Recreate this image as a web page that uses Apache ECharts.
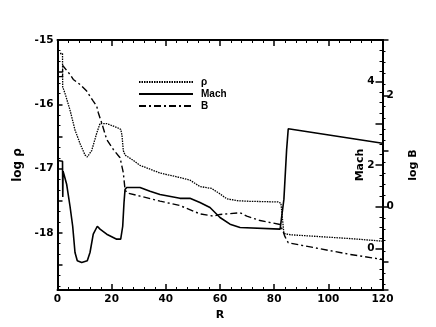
<!DOCTYPE html>
<html><head><meta charset="utf-8">
<script src="https://cdn.jsdelivr.net/npm/echarts@6/dist/echarts.min.js"></script>
<style>html,body{margin:0;padding:0;background:#fff}#c{width:436px;height:327px}</style>
</head><body><div id="c"></div>
<script>
// log rho (dotted)
const rhoR = [0, 1.85, 1.92, 2.77, 4.62, 6.46, 8.31, 10.16, 11.0, 12.63, 14.48, 15.69, 18.17, 21.86, 23.34, 23.8, 24.3, 24.93, 27.88, 30.47, 37.85, 45.2, 48.9, 52.6, 56.9, 59.5, 62.5, 66.2, 71.1, 81.4, 82.5, 83.6, 85.9, 108.1, 120];
const rhoV = [-15.21, -15.21, -15.73, -15.83, -16.09, -16.40, -16.61, -16.79, -16.82, -16.72, -16.45, -16.30, -16.30, -16.36, -16.39, -16.48, -16.72, -16.79, -16.87, -16.95, -17.07, -17.14, -17.18, -17.28, -17.31, -17.38, -17.47, -17.50, -17.51, -17.52, -17.54, -18.01, -18.03, -18.09, -18.13];
// Mach (solid)
const machR = [0, 1.85, 1.95, 2.05, 2.4, 3.4, 4.62, 5.61, 6.46, 7.31, 8.94, 11.0, 12.0, 13.2, 14.7, 15.7, 18.17, 21.86, 23.34, 24.08, 24.56, 24.93, 25.55, 30.47, 34.16, 37.85, 45.2, 48.9, 52.6, 56.3, 60.0, 63.7, 67.4, 82.2, 82.9, 83.6, 84.6, 85.2, 120];
const machV = [2.11, 2.09, 1.23, 1.85, 1.77, 1.53, 1.01, 0.53, -0.10, -0.30, -0.34, -0.30, -0.10, 0.34, 0.53, 0.46, 0.34, 0.22, 0.22, 0.53, 1.10, 1.41, 1.46, 1.46, 1.37, 1.29, 1.20, 1.20, 1.10, 0.98, 0.74, 0.58, 0.50, 0.46, 0.50, 1.18, 2.37, 2.87, 2.52];
// log B (dash-dot)
const bR = [0, 1.85, 1.92, 4.62, 5.83, 8.31, 10.78, 13.2, 14.48, 15.07, 16.3, 18.17, 20.6, 23.1, 23.7, 24.3, 24.93, 25.55, 30.47, 37.85, 45.2, 52.6, 57.5, 60.0, 67.4, 69.9, 74.8, 82.2, 83.3, 84.0, 85.2, 108.1, 120];
const bV = [2.34, 2.34, 2.54, 2.38, 2.29, 2.20, 2.08, 1.90, 1.81, 1.69, 1.51, 1.21, 1.03, 0.88, 0.85, 0.61, 0.31, 0.25, 0.19, 0.10, 0.02, -0.13, -0.17, -0.14, -0.11, -0.17, -0.25, -0.32, -0.45, -0.54, -0.65, -0.86, -0.95];

const seriesNames = ['ρ', 'Mach', 'B'];
const xTitle = 'R';
const yTitles = ['log ρ', 'Mach', 'log B'];
const rhoLabels = [-15, -16, -17, -18];
const machLabels = [0, 2, 4];
const bLabels = [0, 2];

const pairs = (xs, ys) => xs.map((x, i) => [x, ys[i]]);
const F = 'DejaVu Sans';
const axisLineS = {show: true, onZero: false, lineStyle: {color: '#000', width: 2}};
const lbl = (list) => (v) => list.some(t => Math.abs(t - v) < 1e-9) ? String(v) : '';

const chart = echarts.init(document.getElementById('c'));
chart.setOption({
  animation: false,
  backgroundColor: '#fff',
  grid: {left: 57.5, right: 53.5, top: 40, bottom: 37},
  legend: {
    orient: 'vertical', left: 138, top: 77, padding: 0, itemWidth: 54, itemHeight: 8, itemGap: 2,
    itemStyle: {opacity: 0},
    textStyle: {fontFamily: 'Liberation Sans', fontWeight: 'bold', fontSize: 10, lineHeight: 10, color: '#000', padding: [0, 0, 0, 3]},
    data: seriesNames
  },
  xAxis: [{
    type: 'value', min: 0, max: 120, interval: 20, position: 'bottom',
    name: xTitle, nameLocation: 'middle', nameGap: 18,
    nameTextStyle: {fontFamily: F, fontWeight: 'bold', fontSize: 11, color: '#000'},
    axisLine: axisLineS,
    axisTick: {inside: true, length: 6, lineStyle: {color: '#000', width: 1.5}},
    minorTick: {show: true, splitNumber: 5, length: 3, lineStyle: {color: '#000', width: 1}},
    axisLabel: {fontFamily: F, fontWeight: 'bold', fontSize: 10.5, color: '#000', margin: 4},
    splitLine: {show: false}
  }, {
    type: 'value', min: 0, max: 120, interval: 20, position: 'top',
    axisLine: axisLineS,
    axisTick: {inside: true, length: 6, lineStyle: {color: '#000', width: 1.5}},
    minorTick: {show: true, splitNumber: 5, length: 3, lineStyle: {color: '#000', width: 1}},
    axisLabel: {show: false}, splitLine: {show: false}
  }],
  yAxis: [{
    type: 'value', min: -18.89, max: -15, splitNumber: 8, position: 'left',
    name: yTitles[0], nameLocation: 'middle', nameGap: 33,
    nameTextStyle: {fontFamily: F, fontWeight: 'bold', fontSize: 12, color: '#000'},
    axisLine: axisLineS,
    axisTick: {inside: true, length: 5, lineStyle: {color: '#000', width: 1.5}},
    minorTick: {show: true, splitNumber: 3, length: 3, lineStyle: {color: '#000', width: 1}},
    axisLabel: {fontFamily: F, fontWeight: 'bold', fontSize: 10.5, color: '#000', margin: 4, formatter: lbl(rhoLabels)},
    splitLine: {show: false}
  }, {
    type: 'value', min: -1, max: 5, interval: 1, position: 'right',
    name: yTitles[1], nameLocation: 'middle', nameGap: -28, nameRotate: 90, nameMoveOverlap: false,
    nameTextStyle: {fontFamily: F, fontWeight: 'bold', fontSize: 11, color: '#000'},
    axisLine: axisLineS,
    axisTick: {inside: true, length: 7, lineStyle: {color: '#000', width: 1.5}},
    minorTick: {show: true, splitNumber: 4, length: 3, lineStyle: {color: '#000', width: 1}},
    axisLabel: {inside: true, fontFamily: F, fontWeight: 'bold', fontSize: 10.5, color: '#000', margin: 8, formatter: lbl(machLabels)},
    splitLine: {show: false}
  }, {
    type: 'value', min: -1.5, max: 3, splitNumber: 5, position: 'right',
    name: yTitles[2], nameLocation: 'middle', nameGap: 25, nameRotate: 90,
    nameTextStyle: {fontFamily: F, fontWeight: 'bold', fontSize: 11, color: '#000'},
    axisLine: axisLineS,
    axisTick: {inside: false, length: 6, lineStyle: {color: '#000', width: 1.5}},
    minorTick: {show: true, splitNumber: 5, length: 3, lineStyle: {color: '#000', width: 1}},
    axisLabel: {fontFamily: F, fontWeight: 'bold', fontSize: 10.5, color: '#000', margin: 4, formatter: lbl(bLabels)},
    splitLine: {show: false}
  }],
  series: [{
    name: seriesNames[0], type: 'line', yAxisIndex: 0, symbol: 'none',
    data: pairs(rhoR, rhoV),
    lineStyle: {color: '#000', width: 1.3, type: [1.5, 1]}, itemStyle: {color: '#000'}
  }, {
    name: seriesNames[1], type: 'line', yAxisIndex: 1, symbol: 'none',
    data: pairs(machR, machV),
    lineStyle: {color: '#000', width: 1.6, type: 'solid'}, itemStyle: {color: '#000'}
  }, {
    name: seriesNames[2], type: 'line', yAxisIndex: 2, symbol: 'none',
    data: pairs(bR, bV),
    lineStyle: {color: '#000', width: 1.4, type: [7, 3, 2, 3]}, itemStyle: {color: '#000'}
  }]
});
</script></body></html>
